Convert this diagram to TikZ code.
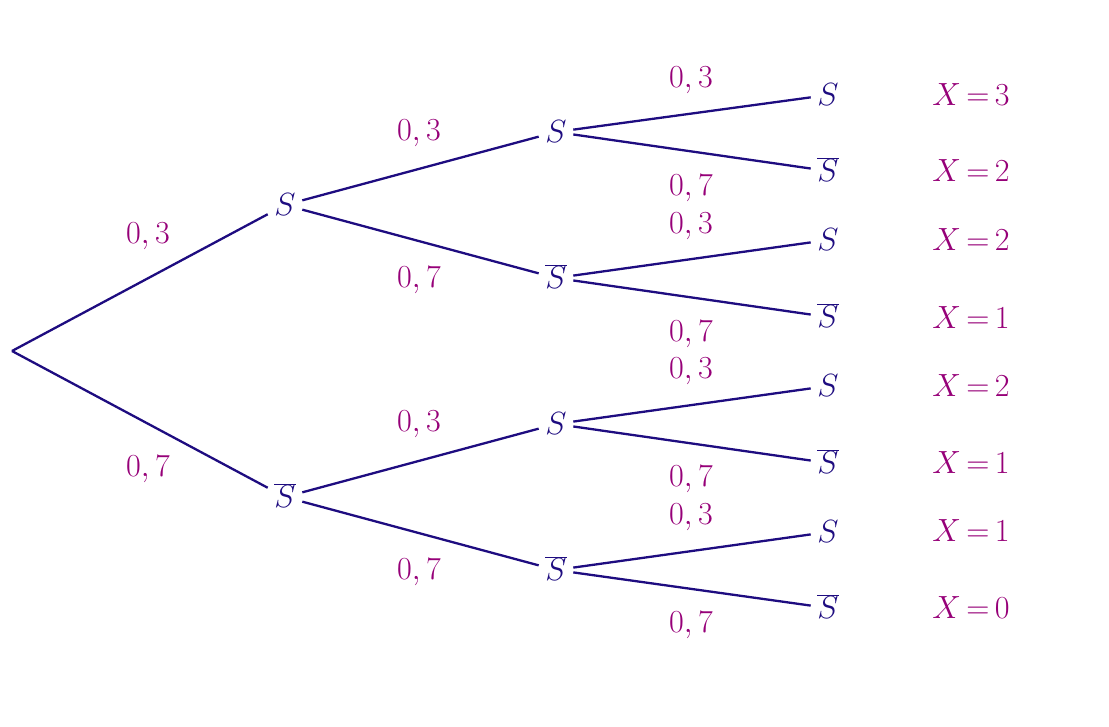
\documentclass[tikz,border=0pt]{standalone}
\definecolor{treeblue}{RGB}{30,12,128}
\definecolor{labpurple}{RGB}{150,0,120}
\newcommand{\nS}{\vphantom{S}\smash{\overline{S}}}
\newcommand{\xeq}[1]{$X\mskip-2mu=\mskip-2mu#1$}
\begin{document}
\begin{tikzpicture}[x=1pt,y=-1pt,
  ev/.style={text=treeblue, inner sep=0pt, scale=1.29, minimum width=26.4pt, minimum height=21.7pt, font=\fontsize{24.88}{30}\selectfont},
  pr/.style={text=labpurple, inner sep=0pt, scale=1.29, font=\fontsize{24.88}{30}\selectfont},
  br/.style={draw=treeblue, line width=2.3pt}]
\useasboundingbox (0,0) rectangle (1109,727);
\coordinate (r) at (12,351);
% level 1
\node[ev] (a) at (285,205) {$S$};
\node[ev] (b) at (285,497) {$\nS$};
% level 2
\node[ev] (aa) at (556,132) {$S$};
\node[ev] (ab) at (556,278) {$\nS$};
\node[ev] (ba) at (556,424) {$S$};
\node[ev] (bb) at (556,570) {$\nS$};
% level 3
\node[ev] (aaa) at (828,95) {$S$};
\node[ev] (aab) at (828,171) {$\nS$};
\node[ev] (aba) at (828,240) {$S$};
\node[ev] (abb) at (828,317) {$\nS$};
\node[ev] (baa) at (828,386) {$S$};
\node[ev] (bab) at (828,463) {$\nS$};
\node[ev] (bba) at (828,532) {$S$};
\node[ev] (bbb) at (828,608) {$\nS$};
% branches
\draw[br] (r) -- (a);
\draw[br] (r) -- (b);
\draw[br] (a) -- (aa);
\draw[br] (a) -- (ab);
\draw[br] (b) -- (ba);
\draw[br] (b) -- (bb);
\draw[br] (aa) -- (aaa);
\draw[br] (aa) -- (aab);
\draw[br] (ab) -- (aba);
\draw[br] (ab) -- (abb);
\draw[br] (ba) -- (baa);
\draw[br] (ba) -- (bab);
\draw[br] (bb) -- (bba);
\draw[br] (bb) -- (bbb);
% probabilities
\node[pr] (p1) at (148,236) {$0,3$};
\node[pr] (p2) at (148,469) {$0,7$};
\node[pr] (p3) at (419,133) {$0,3$};
\node[pr] (p4) at (419,280) {$0,7$};
\node[pr] (p5) at (419,424) {$0,3$};
\node[pr] (p6) at (419,572) {$0,7$};
\node[pr] (p7) at (691,80) {$0,3$};
\node[pr] (p8) at (691,188) {$0,7$};
\node[pr] (p9) at (691,226) {$0,3$};
\node[pr] (p10) at (691,334) {$0,7$};
\node[pr] (p11) at (691,371) {$0,3$};
\node[pr] (p12) at (691,479) {$0,7$};
\node[pr] (p13) at (691,517) {$0,3$};
\node[pr] (p14) at (691,625) {$0,7$};
% values of X
\node[pr] (x1) at (971,95) {\xeq{3}};
\node[pr] (x2) at (971,171) {\xeq{2}};
\node[pr] (x3) at (971,240) {\xeq{2}};
\node[pr] (x4) at (971,318) {\xeq{1}};
\node[pr] (x5) at (971,386) {\xeq{2}};
\node[pr] (x6) at (971,463) {\xeq{1}};
\node[pr] (x7) at (971,531) {\xeq{1}};
\node[pr] (x8) at (971,608) {\xeq{0}};
\end{tikzpicture}
\end{document}
